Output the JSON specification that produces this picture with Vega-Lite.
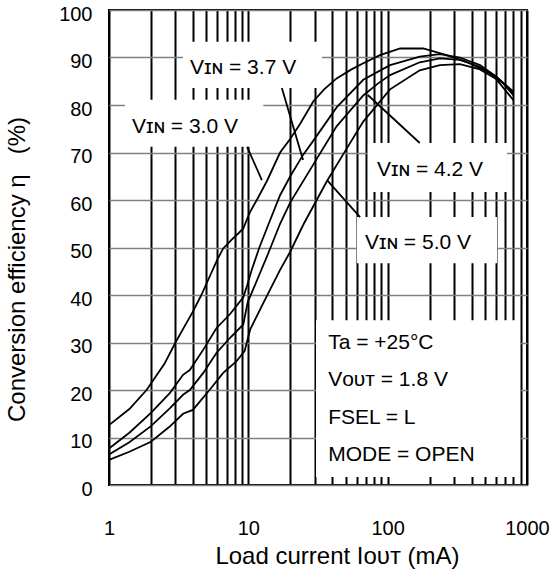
{
  "$schema": "https://vega.github.io/schema/vega-lite/v6.json",
  "width": 418,
  "height": 475,
  "autosize": {"type": "none"},
  "padding": {"left": 109, "top": 10, "right": 27, "bottom": 89},
  "background": "white",
  "config": {
    "view": {"stroke": "black", "strokeWidth": 2},
    "font": "Liberation Sans",
    "axis": {"labelFont": "Liberation Sans", "titleFont": "Liberation Sans", "labelColor": "black", "titleColor": "black", "titleFontWeight": "normal"}
  },
  "datasets": {
    "curves": [
      {"vin": "3.0", "i": 1, "eff": 12.6}, {"vin": "3.0", "i": 1.4, "eff": 16}, {"vin": "3.0", "i": 1.86, "eff": 20}, {"vin": "3.0", "i": 2.5, "eff": 25.5}, {"vin": "3.0", "i": 3.0, "eff": 30}, {"vin": "3.0", "i": 3.5, "eff": 33.5}, {"vin": "3.0", "i": 4.0, "eff": 36.5}, {"vin": "3.0", "i": 4.6, "eff": 40}, {"vin": "3.0", "i": 5.3, "eff": 44}, {"vin": "3.0", "i": 6.0, "eff": 47.5}, {"vin": "3.0", "i": 6.6, "eff": 49.8}, {"vin": "3.0", "i": 7.5, "eff": 51.5}, {"vin": "3.0", "i": 8.5, "eff": 53}, {"vin": "3.0", "i": 9.2, "eff": 54}, {"vin": "3.0", "i": 9.8, "eff": 56}, {"vin": "3.0", "i": 10.3, "eff": 57.5}, {"vin": "3.0", "i": 11.5, "eff": 60}, {"vin": "3.0", "i": 13.6, "eff": 64}, {"vin": "3.0", "i": 16.9, "eff": 70}, {"vin": "3.0", "i": 19.9, "eff": 72.8}, {"vin": "3.0", "i": 23.5, "eff": 76}, {"vin": "3.0", "i": 29.3, "eff": 80.8}, {"vin": "3.0", "i": 35, "eff": 83.3}, {"vin": "3.0", "i": 43, "eff": 85.6}, {"vin": "3.0", "i": 55, "eff": 87.5}, {"vin": "3.0", "i": 66.8, "eff": 88.8}, {"vin": "3.0", "i": 88, "eff": 90.5}, {"vin": "3.0", "i": 123, "eff": 91.9}, {"vin": "3.0", "i": 180, "eff": 91.9}, {"vin": "3.0", "i": 265, "eff": 90.5}, {"vin": "3.0", "i": 368, "eff": 89.1}, {"vin": "3.0", "i": 515, "eff": 87}, {"vin": "3.0", "i": 675, "eff": 84.6}, {"vin": "3.0", "i": 800, "eff": 82},
      {"vin": "3.7", "i": 1, "eff": 7.7}, {"vin": "3.7", "i": 1.4, "eff": 11}, {"vin": "3.7", "i": 2, "eff": 15.2}, {"vin": "3.7", "i": 2.74, "eff": 19.4}, {"vin": "3.7", "i": 3.4, "eff": 23.2}, {"vin": "3.7", "i": 3.8, "eff": 24.2}, {"vin": "3.7", "i": 4.75, "eff": 28.5}, {"vin": "3.7", "i": 5.9, "eff": 33}, {"vin": "3.7", "i": 7.4, "eff": 36}, {"vin": "3.7", "i": 9.2, "eff": 39.5}, {"vin": "3.7", "i": 9.8, "eff": 42}, {"vin": "3.7", "i": 10.5, "eff": 45}, {"vin": "3.7", "i": 12, "eff": 50}, {"vin": "3.7", "i": 14, "eff": 55}, {"vin": "3.7", "i": 16.9, "eff": 61}, {"vin": "3.7", "i": 20, "eff": 65}, {"vin": "3.7", "i": 24.7, "eff": 69.5}, {"vin": "3.7", "i": 29.3, "eff": 72.5}, {"vin": "3.7", "i": 43, "eff": 79.5}, {"vin": "3.7", "i": 66.8, "eff": 85.3}, {"vin": "3.7", "i": 104, "eff": 88.4}, {"vin": "3.7", "i": 170, "eff": 90.2}, {"vin": "3.7", "i": 237, "eff": 90.7}, {"vin": "3.7", "i": 330, "eff": 90}, {"vin": "3.7", "i": 460, "eff": 88.4}, {"vin": "3.7", "i": 600, "eff": 86}, {"vin": "3.7", "i": 800, "eff": 82.5},
      {"vin": "4.2", "i": 1, "eff": 6.4}, {"vin": "4.2", "i": 1.4, "eff": 9}, {"vin": "4.2", "i": 2, "eff": 12.4}, {"vin": "4.2", "i": 2.74, "eff": 16.2}, {"vin": "4.2", "i": 3.4, "eff": 19}, {"vin": "4.2", "i": 3.8, "eff": 20}, {"vin": "4.2", "i": 4.75, "eff": 23.6}, {"vin": "4.2", "i": 5.9, "eff": 27.8}, {"vin": "4.2", "i": 7.4, "eff": 31}, {"vin": "4.2", "i": 9.2, "eff": 33.8}, {"vin": "4.2", "i": 9.9, "eff": 38.5}, {"vin": "4.2", "i": 11.5, "eff": 43}, {"vin": "4.2", "i": 14, "eff": 49}, {"vin": "4.2", "i": 16.9, "eff": 55}, {"vin": "4.2", "i": 20, "eff": 59.5}, {"vin": "4.2", "i": 29.3, "eff": 67.5}, {"vin": "4.2", "i": 43, "eff": 75.5}, {"vin": "4.2", "i": 66.8, "eff": 82}, {"vin": "4.2", "i": 85, "eff": 84.5}, {"vin": "4.2", "i": 104, "eff": 86.3}, {"vin": "4.2", "i": 170, "eff": 89}, {"vin": "4.2", "i": 237, "eff": 89.8}, {"vin": "4.2", "i": 330, "eff": 89.5}, {"vin": "4.2", "i": 460, "eff": 88}, {"vin": "4.2", "i": 600, "eff": 86}, {"vin": "4.2", "i": 800, "eff": 82.8},
      {"vin": "5.0", "i": 1, "eff": 5.3}, {"vin": "5.0", "i": 1.4, "eff": 7}, {"vin": "5.0", "i": 2, "eff": 9.1}, {"vin": "5.0", "i": 2.7, "eff": 12.2}, {"vin": "5.0", "i": 3.4, "eff": 15}, {"vin": "5.0", "i": 4.0, "eff": 15.8}, {"vin": "5.0", "i": 5.3, "eff": 20.1}, {"vin": "5.0", "i": 6.6, "eff": 23.6}, {"vin": "5.0", "i": 8.2, "eff": 26}, {"vin": "5.0", "i": 9.4, "eff": 28.2}, {"vin": "5.0", "i": 10.3, "eff": 32.7}, {"vin": "5.0", "i": 12.8, "eff": 38.3}, {"vin": "5.0", "i": 16.9, "eff": 45.3}, {"vin": "5.0", "i": 19.9, "eff": 49}, {"vin": "5.0", "i": 25, "eff": 55}, {"vin": "5.0", "i": 36.7, "eff": 64}, {"vin": "5.0", "i": 50, "eff": 70.5}, {"vin": "5.0", "i": 66.8, "eff": 76.5}, {"vin": "5.0", "i": 104, "eff": 83.3}, {"vin": "5.0", "i": 170, "eff": 87.3}, {"vin": "5.0", "i": 237, "eff": 88.4}, {"vin": "5.0", "i": 330, "eff": 88.6}, {"vin": "5.0", "i": 460, "eff": 87.5}, {"vin": "5.0", "i": 600, "eff": 85.5}, {"vin": "5.0", "i": 800, "eff": 81}
    ],
    "boxes": [
      {"i1": 3.39, "i2": 33.8, "e1": 83.6, "e2": 93.3},
      {"i1": 1.30, "i2": 12.8, "e1": 71.2, "e2": 81.1},
      {"i1": 72.1, "i2": 718, "e1": 61.7, "e2": 72.0},
      {"i1": 60.2, "i2": 609, "e1": 46.7, "e2": 56.4},
      {"i1": 30.6, "i2": 891, "e1": 1.7, "e2": 34.7}
    ],
    "leaders": [
      {"i1": 17.4, "i2": 24.7, "e1": 83.6, "e2": 68.4},
      {"i1": 9.8, "i2": 12.5, "e1": 71.2, "e2": 64.2},
      {"i1": 170, "i2": 72, "e1": 72.0, "e2": 82.1},
      {"i1": 63.4, "i2": 36.7, "e1": 56.4, "e2": 64.2}
    ],
    "labels": [
      {"i": 3.82, "eff": 87.8, "t": "Vɪɴ = 3.7 V"},
      {"i": 1.46, "eff": 75.4, "t": "Vɪɴ = 3.0 V"},
      {"i": 83.9, "eff": 66.3, "t": "Vɪɴ = 4.2 V"},
      {"i": 68.7, "eff": 50.9, "t": "Vɪɴ = 5.0 V"},
      {"i": 37.4, "eff": 29.9, "t": "Ta = +25°C"},
      {"i": 37.4, "eff": 22.1, "t": "Vᴏᴜᴛ = 1.8 V"},
      {"i": 37.4, "eff": 14.1, "t": "FSEL = L"},
      {"i": 37.4, "eff": 6.3, "t": "MODE = OPEN"}
    ]
  },
  "layer": [
    {
      "data": {"name": "boxes"},
      "mark": {"type": "rect", "fill": "white", "stroke": null},
      "encoding": {
        "x": {"field": "i1", "type": "quantitative", "scale": {"type": "log", "domain": [1, 1000], "nice": false},
          "axis": {"values": [1,2,3,4,5,6,7,8,9,10,20,30,40,50,60,70,80,90,100,200,300,400,500,600,700,800,900,1000],
            "grid": true, "gridColor": "black", "gridWidth": 2, "gridOpacity": 1, "domain": false, "ticks": false,
            "labelExpr": "(datum.value == 1 || datum.value == 10 || datum.value == 100 || datum.value == 1000) ? format(datum.value, 'd') : ''",
            "labelFontSize": 20, "labelFlush": false, "labelOverlap": false, "labelBaseline": "alphabetic", "labelPadding": 49,
            "title": "Load current Iᴏᴜᴛ (mA)", "titleFontSize": 24, "titleX": 228, "titleY": 78, "titleBaseline": "alphabetic", "titleAnchor": null, "titleAlign": "center"}},
        "x2": {"field": "i2"},
        "y": {"field": "e1", "type": "quantitative", "scale": {"domain": [0, 100], "nice": false},
          "axis": {"values": [0,10,20,30,40,50,60,70,80,90,100], "grid": true, "gridColor": "#808080", "gridWidth": 1.5, "gridOpacity": 1,
            "domain": false, "ticks": false, "labelFontSize": 20, "labelPadding": 17, "labelOffset": 4, "labelFlush": false, "labelOverlap": false,
            "title": "Conversion efficiency η\u00a0\u00a0\u00a0(%)", "titleFontSize": 24, "titleX": -85, "titleY": 259, "titleAngle": -90, "titleBaseline": "alphabetic", "titleAlign": "center", "titleAnchor": null}},
        "y2": {"field": "e2"}
      }
    },
    {
      "data": {"name": "curves"},
      "mark": {"type": "line", "color": "black", "strokeWidth": 1.8},
      "encoding": {
        "x": {"field": "i", "type": "quantitative"},
        "y": {"field": "eff", "type": "quantitative"},
        "detail": {"field": "vin"}
      }
    },
    {
      "data": {"name": "leaders"},
      "mark": {"type": "rule", "color": "black", "strokeWidth": 1.8},
      "encoding": {
        "x": {"field": "i1", "type": "quantitative"},
        "x2": {"field": "i2"},
        "y": {"field": "e1", "type": "quantitative"},
        "y2": {"field": "e2"}
      }
    },
    {
      "data": {"name": "labels"},
      "mark": {"type": "text", "align": "left", "baseline": "middle", "fontSize": 21, "font": "Liberation Sans", "color": "black"},
      "encoding": {
        "x": {"field": "i", "type": "quantitative"},
        "y": {"field": "eff", "type": "quantitative"},
        "text": {"field": "t"}
      }
    }
  ]
}
